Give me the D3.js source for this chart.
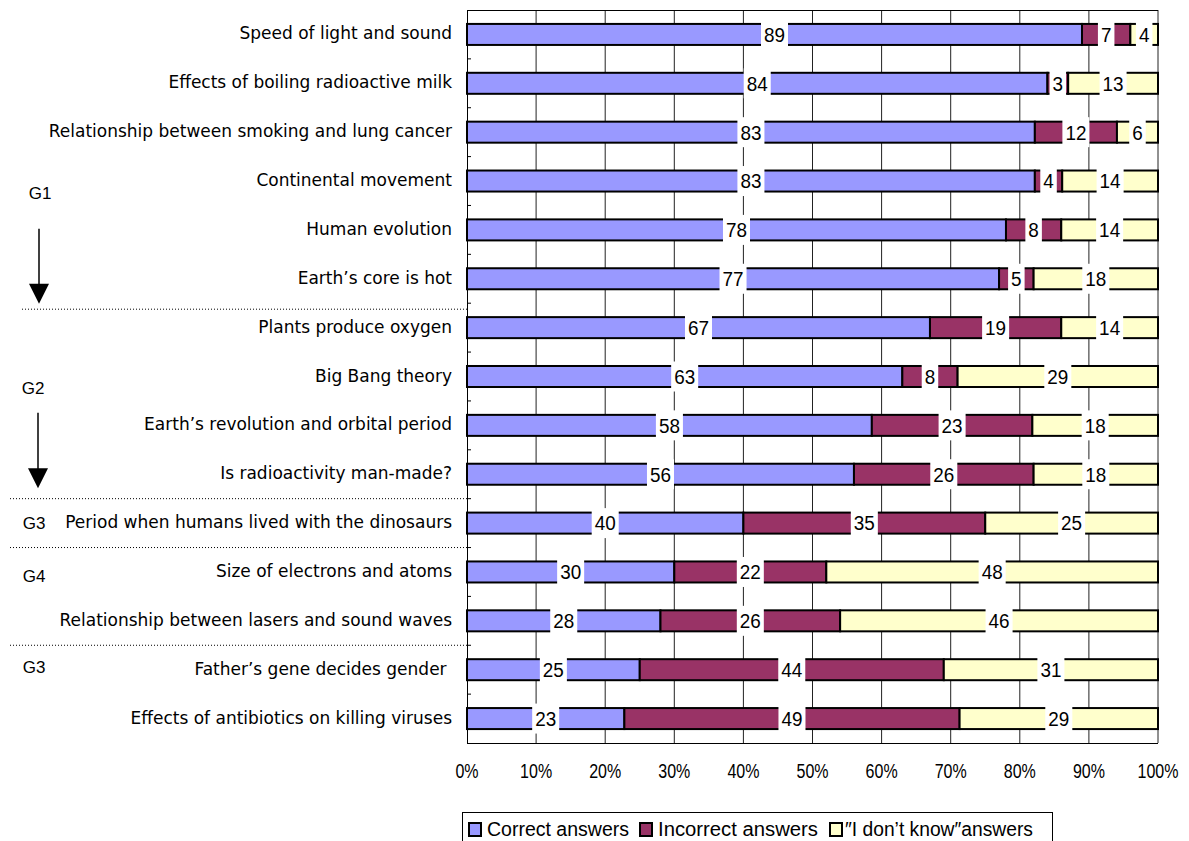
<!DOCTYPE html>
<html>
<head>
<meta charset="utf-8">
<script src="https://cdn.jsdelivr.net/npm/d3@7"></script>
<style>
  html, body { margin: 0; padding: 0; background: #fff; }
  svg { display: block; }
</style>
</head>
<body>
<svg id="chart" width="1189" height="841"></svg>
<script>
// Survey items, top to bottom
const categories = [
  "Speed of light and sound",
  "Effects of boiling radioactive milk",
  "Relationship between smoking and lung cancer",
  "Continental movement",
  "Human evolution",
  "Earth\u2019s core is hot",
  "Plants produce oxygen",
  "Big Bang theory",
  "Earth\u2019s revolution and orbital period",
  "Is radioactivity man-made?",
  "Period when humans lived with the dinosaurs",
  "Size of electrons and atoms",
  "Relationship between lasers and sound waves",
  "Father\u2019s gene decides gender\u00a0",
  "Effects of antibiotics on killing viruses"
];

// Share of answers (%)
const correct   = [89, 84, 83, 83, 78, 77, 67, 63, 58, 56, 40, 30, 28, 25, 23];
const incorrect = [ 7,  3, 12,  4,  8,  5, 19,  8, 23, 26, 35, 22, 26, 44, 49];
const dontKnow  = [ 4, 13,  6, 14, 14, 18, 14, 29, 18, 18, 25, 48, 46, 31, 29];

const seriesNames = ["Correct answers", "Incorrect answers", "\u2033I don\u2019t know\u2033answers"];
const seriesKeys = ["correct", "incorrect", "dontKnow"];
const colors = ["#9999FF", "#993366", "#FFFFCC"];
const xTicks = [0, 0.1, 0.2, 0.3, 0.4, 0.5, 0.6, 0.7, 0.8, 0.9, 1.0];

// Group annotations
const groups = [
  { label: "G1", arrow: true },
  { label: "G2", arrow: true },
  { label: "G3", arrow: false },
  { label: "G4", arrow: false },
  { label: "G3", arrow: false }
];
const separatorsAfterRow = [5, 9, 10, 12];

const svg = d3.select("#chart");
const plot = { left: 467, right: 1158, top: 10, bottom: 743 };

const numFont = "'Liberation Sans', Arial, sans-serif";
const labelFont = "'DejaVu Sans', sans-serif";

const rows = categories.map((c, i) => {
  const total = correct[i] + incorrect[i] + dontKnow[i];
  return {
    cat: c,
    raw: { correct: correct[i], incorrect: incorrect[i], dontKnow: dontKnow[i] },
    correct: correct[i] / total,
    incorrect: incorrect[i] / total,
    dontKnow: dontKnow[i] / total
  };
});

const x = d3.scaleLinear().domain([0, 1]).range([plot.left, plot.right]);
const y = d3.scaleBand().domain(categories).range([plot.top, plot.bottom])
  .paddingInner(0.57).paddingOuter(0.285);
const step = y.step();

const stacked = d3.stack().keys(seriesKeys)(rows);

// Vertical gridlines
svg.append("g").selectAll("line").data(xTicks.slice(1)).join("line")
  .attr("x1", d => x(d)).attr("x2", d => x(d))
  .attr("y1", plot.top).attr("y2", plot.bottom)
  .attr("stroke", "#222").attr("stroke-width", 1);

// Frame: top edge
svg.append("line")
  .attr("x1", plot.left).attr("x2", plot.right)
  .attr("y1", plot.top + 0.5).attr("y2", plot.top + 0.5)
  .attr("stroke", "#000");

// Bars
const barG = svg.append("g");
stacked.forEach((s, si) => {
  barG.append("g").selectAll("rect").data(s).join("rect")
    .attr("x", d => x(d[0]))
    .attr("width", d => Math.max(0, x(d[1]) - x(d[0])))
    .attr("y", d => y(d.data.cat))
    .attr("height", y.bandwidth())
    .attr("fill", colors[si])
    .attr("stroke", "#000")
    .attr("stroke-width", 2);
});

// Value labels on white boxes
const valueSqueeze = 0.9;
const labelG = svg.append("g");
stacked.forEach((s, si) => {
  s.forEach(d => {
    const cx = x((d[0] + d[1]) / 2);
    const cy = y(d.data.cat) + y.bandwidth() / 2;
    const g = labelG.append("g");
    const bg = g.append("rect").attr("fill", "#fff");
    const t = g.append("text")
      .attr("transform", `translate(${cx},${cy}) scale(${valueSqueeze},1)`)
      .attr("text-anchor", "middle")
      .attr("dominant-baseline", "central")
      .attr("font-family", numFont)
      .attr("font-size", 21)
      .attr("fill", "#000")
      .text(d.data.raw[seriesKeys[si]]);
    const w = t.node().getComputedTextLength() * valueSqueeze;
    bg.attr("x", cx - w / 2 - 3).attr("width", w + 6)
      .attr("y", cy - 15).attr("height", 30);
  });
});

// Left axis line, bottom line and boundary ticks
svg.append("line")
  .attr("x1", plot.left + 0.5).attr("x2", plot.left + 0.5)
  .attr("y1", plot.top).attr("y2", plot.bottom)
  .attr("stroke", "#000");
svg.append("line")
  .attr("x1", plot.left).attr("x2", plot.right)
  .attr("y1", plot.bottom + 0.5).attr("y2", plot.bottom + 0.5)
  .attr("stroke", "#000");
svg.append("g").selectAll("line").data(d3.range(1, categories.length)).join("line")
  .attr("x1", plot.left).attr("x2", plot.left + 4)
  .attr("y1", i => plot.top + i * step).attr("y2", i => plot.top + i * step)
  .attr("stroke", "#000");

// Bottom axis labels
const axisSqueeze = 0.8;
const fmt = d3.format(".0%");
svg.append("g").selectAll("text").data(xTicks).join("text")
  .attr("transform", d => `translate(${x(d)},${plot.bottom + 28}) scale(${axisSqueeze},1)`)
  .attr("text-anchor", "middle")
  .attr("dominant-baseline", "central")
  .attr("font-family", numFont).attr("font-size", 20)
  .attr("fill", "#000")
  .text(d => fmt(d));

// Category labels
svg.append("g").selectAll("text").data(categories).join("text")
  .attr("x", 452)
  .attr("y", d => y(d) + y.bandwidth() / 2 - 1)
  .attr("text-anchor", "end")
  .attr("dominant-baseline", "central")
  .attr("font-family", labelFont)
  .attr("font-size", 17)
  .attr("fill", "#000")
  .text(d => d);

// Group separators
const sepG = svg.append("g");
separatorsAfterRow.forEach((r, k) => {
  const yy = plot.top + (r + 1) * step + (k === 0 ? 6 : 0);
  sepG.append("line")
    .attr("x1", k === 0 ? 22 : 10).attr("x2", plot.left)
    .attr("y1", yy).attr("y2", yy)
    .attr("stroke", "#000").attr("stroke-width", 1)
    .attr("stroke-dasharray", "1,2");
});

// Group labels and arrows
const rowMid = r => plot.top + (r + 0.5) * step;
const groupLayout = [
  { lx: 40, ly: rowMid(3.3) - 2, ax: 39, a0: rowMid(3.3) + 33, a1: rowMid(5) + 25 },
  { lx: 33, ly: rowMid(7.25), ax: 38, a0: rowMid(7.25) + 24, a1: rowMid(9) + 14 },
  { lx: 34, ly: rowMid(10) },
  { lx: 34, ly: rowMid(11.1) },
  { lx: 34, ly: rowMid(12.95) }
];
const grpG = svg.append("g");
groups.forEach((g, i) => {
  const L = groupLayout[i];
  grpG.append("text")
    .attr("x", L.lx).attr("y", L.ly)
    .attr("text-anchor", "middle")
    .attr("dominant-baseline", "central")
    .attr("font-family", numFont).attr("font-size", 17)
    .text(g.label);
  if (g.arrow) {
    grpG.append("line")
      .attr("x1", L.ax).attr("x2", L.ax)
      .attr("y1", L.a0).attr("y2", L.a1 - 16)
      .attr("stroke", "#000").attr("stroke-width", 1.5);
    grpG.append("path")
      .attr("d", `M${L.ax - 10},${L.a1 - 20} L${L.ax + 10},${L.a1 - 20} L${L.ax},${L.a1} Z`)
      .attr("fill", "#000");
  }
});

// Legend
const legend = svg.append("g");
legend.append("rect")
  .attr("x", 462.5).attr("y", 812.5).attr("width", 590).attr("height", 34)
  .attr("fill", "#fff").attr("stroke", "#000");
const legendLayout = [
  { sx: 469, tx: 487, tw: 142 },
  { sx: 640, tx: 658, tw: 160 },
  { sx: 830, tx: 845, tw: 188 }
];
seriesNames.forEach((n, i) => {
  const L = legendLayout[i];
  legend.append("rect")
    .attr("x", L.sx).attr("y", 823).attr("width", 12).attr("height", 13)
    .attr("fill", colors[i]).attr("stroke", "#000").attr("stroke-width", 2);
  legend.append("text")
    .attr("x", L.tx).attr("y", 829)
    .attr("dominant-baseline", "central")
    .attr("font-family", numFont).attr("font-size", 20)
    .attr("textLength", L.tw).attr("lengthAdjust", "spacingAndGlyphs")
    .text(n);
});
</script>
</body>
</html>
